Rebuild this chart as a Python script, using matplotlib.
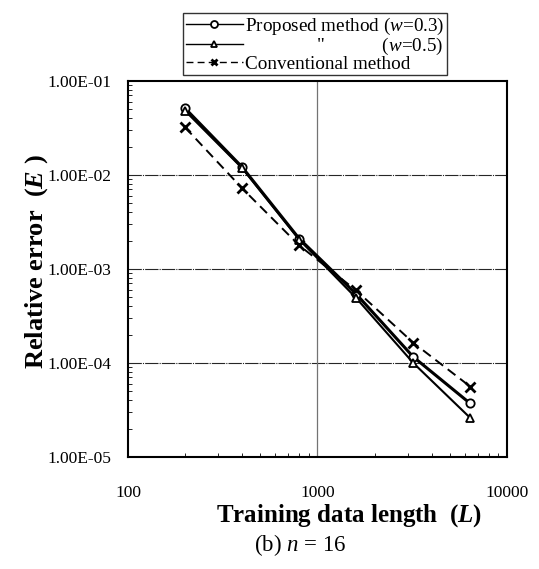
import matplotlib.pyplot as plt
from matplotlib.ticker import LogLocator, NullFormatter, FixedLocator

plt.rcParams['font.family'] = ['Liberation Serif', 'DejaVu Serif']
plt.rcParams['mathtext.fontset'] = 'custom'
plt.rcParams['mathtext.rm'] = 'Liberation Serif'
plt.rcParams['mathtext.it'] = 'Liberation Serif:italic'
plt.rcParams['mathtext.bf'] = 'Liberation Serif:bold'
plt.rcParams['mathtext.bfit'] = 'Liberation Serif:bold:italic'

# training data length
L = [200, 400, 800, 1600, 3200, 6400]

# relative error
err_w03 = [5.1e-2, 1.21e-2, 2.1e-3, 5.4e-4, 1.16e-4, 3.7e-5]
err_w05 = [4.8e-2, 1.18e-2, 2.05e-3, 4.9e-4, 1.0e-4, 2.6e-5]
err_conv = [3.2e-2, 7.2e-3, 1.78e-3, 5.9e-4, 1.64e-4, 5.6e-5]

yticks = [1e-5, 1e-4, 1e-3, 1e-2, 1e-1]
ytick_labels = ['1.00E-05', '1.00E-04', '1.00E-03', '1.00E-02', '1.00E-01']
xticks = [100, 1000, 10000]
xtick_labels = ['100', '1000', '10000']

fig = plt.figure(figsize=(5.39, 5.69), dpi=100)
ax = fig.add_axes([0.2375, 0.197, 0.703, 0.661])

l1, = ax.plot(L, err_w03, '-', color='black', lw=2.2, marker='o', ms=6,
              mfc='white', mec='black', mew=1.3, label='Proposed method ($w$=0.3)')
l2, = ax.plot(L, err_w05, '-', color='black', lw=1.5, marker='^', ms=6,
              mfc='white', mec='black', mew=1.3,
              label='               "            ($w$=0.5)')
l3, = ax.plot(L, err_conv, '--', color='black', lw=1.4, marker='x', ms=7,
              mec='black', mew=2, dashes=(5, 3), label='Conventional method')

ax.set_xscale('log')
ax.set_yscale('log')
ax.set_xlim(100, 10000)
ax.set_ylim(1e-5, 1e-1)

ax.yaxis.set_major_locator(FixedLocator(yticks))
ax.set_yticklabels(ytick_labels, fontsize=12.5)
ax.xaxis.set_major_locator(FixedLocator(xticks))
ax.set_xticklabels(xtick_labels, fontsize=12.5)
ax.yaxis.set_minor_locator(LogLocator(base=10, subs=range(2, 10)))
ax.xaxis.set_minor_locator(LogLocator(base=10, subs=range(2, 10)))
ax.yaxis.set_minor_formatter(NullFormatter())
ax.xaxis.set_minor_formatter(NullFormatter())

ax.tick_params(which='major', direction='in', length=0, pad=12)
ax.tick_params(axis='x', which='major', pad=20)
ax.tick_params(which='minor', direction='in', length=3, width=0.6)

# grid lines
for y in [1e-4, 1e-3, 1e-2]:
    ax.axhline(y, color='0.15', lw=0.8, ls=(0, (12, 1, 1, 1)), zorder=0)
ax.axvline(1000, color='0.45', lw=0.9, zorder=0)

for s in ax.spines.values():
    s.set_linewidth(1.5)

ax.set_xlabel('Training data length  ($\\mathbfit{L}$)', fontsize=18,
              fontweight='bold')
ax.set_ylabel('Relative error  ($\\mathbfit{E}$ )', fontsize=19,
              fontweight='bold')
ax.xaxis.set_label_coords(0.583, -0.12)
ax.yaxis.set_label_coords(-0.207, 0.519)

leg = fig.legend(handles=[l1, l2, l3], loc='upper left',
                 bbox_to_anchor=(0.339, 0.977), fontsize=13.8, frameon=True,
                 fancybox=False, edgecolor='black', borderpad=0.15,
                 labelspacing=-0.08, handlelength=3.0, handletextpad=0.1,
                 borderaxespad=0)
leg.get_frame().set_linewidth(1.0)
for h in leg.legend_handles:
    h.set_linewidth(1.0)
    h.set_markersize(5)

fig.text(0.557, 0.042, '(b) $n$ = 16', fontsize=16.5, ha='center', va='center')

fig.savefig('out.png', dpi=100)
